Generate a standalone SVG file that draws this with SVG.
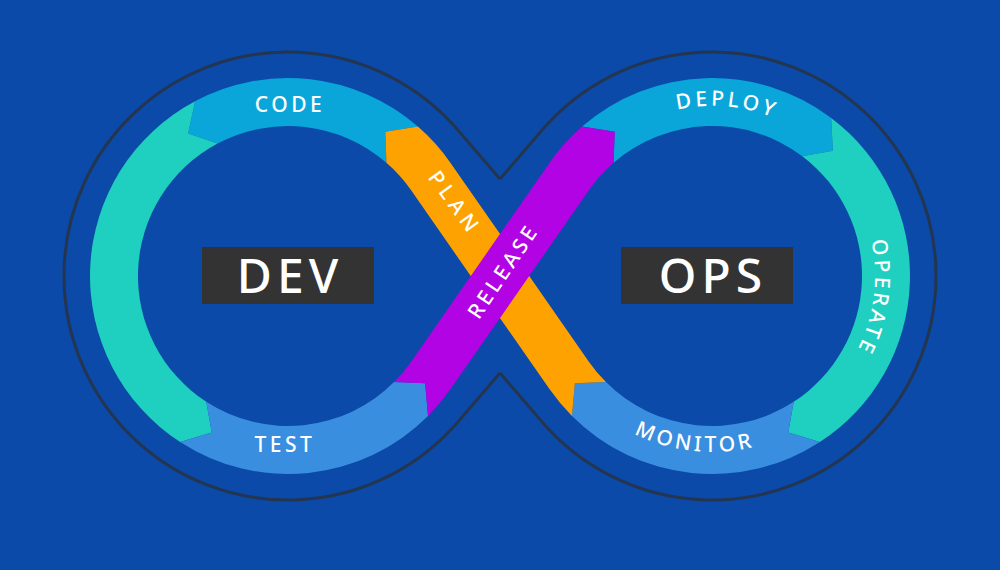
<svg xmlns="http://www.w3.org/2000/svg" width="1000" height="570" viewBox="0 0 1000 570">
  <defs>
    <style>
      .lbl { font-family: "Noto Sans", "DejaVu Sans", sans-serif; font-size: 21px; font-weight: 500; fill: #ffffff; }
      .big { font-family: "Noto Sans", "DejaVu Sans", sans-serif; font-size: 48px; font-weight: 500; fill: #ffffff; }
      .box { fill: #333333; }
      .outline { fill: none; stroke: #243550; stroke-width: 3; stroke-linejoin: miter; }
      .cyan { fill: #0aa6da; }
      .teal { fill: #1fcfbf; }
      .lblue { fill: #3a8ee0; }
      .orange { fill: #fda200; }
      .purple { fill: #b103e3; }
    </style>
    <path id="pDeploy" d="M 575.61,180.50 A 163 163 0 0 1 862.90,205.63"/>
    <path id="pOperate" d="M 811.23,146.68 A 163 163 0 0 1 774.38,426.60"/>
    <path id="pMonitor" d="M 551.22,347.58 A 176 176 0 0 0 854.38,379.45"/>
  </defs>

  <rect width="1000" height="570" fill="#0b4aa8"/>

  <g id="connectors">
    <path class="outline" d="M 500,179 L 457.86,129.97 A 224 224 0 1 0 457.86,422.03 L 500,373"/>
    <path class="outline" d="M 500,179 L 542.14,129.97 A 224 224 0 1 1 542.14,422.03 L 500,373"/>
  </g>

  <g id="code">
    <path class="cyan" d="M 417.90,126.57 A 198 198 0 0 0 195.04,101.19 L 188.19,133.46 L 217.57,143.56 A 150 150 0 0 1 386.41,162.79 L 385.30,131.75 Z"/>
    <text class="lbl" x="290" y="112" text-anchor="middle" letter-spacing="3.5">CODE</text>
  </g>

  <g id="build">
    <path class="teal" d="M 195.04,101.19 A 198 198 0 0 0 180.17,442.06 L 211.72,432.39 L 206.31,401.81 A 150 150 0 0 1 217.57,143.56 L 188.19,133.46 Z"/>
  </g>

  <g id="test">
    <path class="lblue" d="M 180.17,442.06 A 198 198 0 0 0 428.01,416.01 L 425.11,383.13 L 394.07,382.07 A 150 150 0 0 1 206.31,401.81 L 211.72,432.39 Z"/>
    <text class="lbl" x="285" y="452" text-anchor="middle" letter-spacing="3.5">TEST</text>
  </g>

  <g id="deploy">
    <path class="cyan" d="M 582.10,126.57 A 198 198 0 0 1 831.16,117.88 L 832.88,150.84 L 802.27,156.21 A 150 150 0 0 0 613.59,162.79 L 614.70,131.75 Z"/>
    <text class="lbl" letter-spacing="3.5"><textPath href="#pDeploy" startOffset="50%" text-anchor="middle">DEPLOY</textPath></text>
  </g>

  <g id="operate">
    <path class="teal" d="M 831.16,117.88 A 198 198 0 0 1 819.83,442.06 L 788.28,432.39 L 793.69,401.81 A 150 150 0 0 0 802.27,156.21 L 832.88,150.84 Z"/>
    <text class="lbl" letter-spacing="3.5"><textPath href="#pOperate" startOffset="50%" text-anchor="middle">OPERATE</textPath></text>
  </g>

  <g id="monitor">
    <path class="lblue" d="M 819.83,442.06 A 198 198 0 0 1 571.99,416.01 L 574.89,383.13 L 605.93,382.07 A 150 150 0 0 0 793.69,401.81 L 788.28,432.39 Z"/>
    <text class="lbl" letter-spacing="3.5"><textPath href="#pMonitor" startOffset="50%" text-anchor="middle">MONITOR</textPath></text>
  </g>

  <g id="plan">
    <path class="orange" d="M 571.99,416.01 A 198 198 0 0 1 549.46,389.12 L 411.14,190.30 A 150 150 0 0 0 386.41,162.79 L 385.30,131.75 L 417.90,126.57 A 198 198 0 0 1 450.54,162.88 L 588.87,361.70 A 150 150 0 0 0 605.93,382.07 L 574.89,383.13 Z"/>
    <text class="lbl" transform="translate(455,203) rotate(54)" x="0" y="7.5" text-anchor="middle" letter-spacing="5">PLAN</text>
  </g>

  <g id="release">
    <path class="purple" d="M 428.01,416.01 A 198 198 0 0 0 450.54,389.12 L 588.87,190.30 A 150 150 0 0 1 613.59,162.79 L 614.70,131.75 L 582.10,126.57 A 198 198 0 0 0 549.46,162.88 L 411.14,361.70 A 150 150 0 0 1 394.07,382.07 L 425.11,383.13 Z"/>
    <text class="lbl" transform="translate(503,271) rotate(-56)" x="0" y="7.5" text-anchor="middle" letter-spacing="3.5">RELEASE</text>
  </g>

  <g id="dev">
    <rect class="box" x="202" y="247" width="172" height="57"/>
    <text class="big" x="290" y="293" text-anchor="middle" letter-spacing="5">DEV</text>
  </g>

  <g id="ops">
    <rect class="box" x="621" y="247" width="172" height="57"/>
    <text class="big" x="713" y="293" text-anchor="middle" letter-spacing="5">OPS</text>
  </g>
</svg>
